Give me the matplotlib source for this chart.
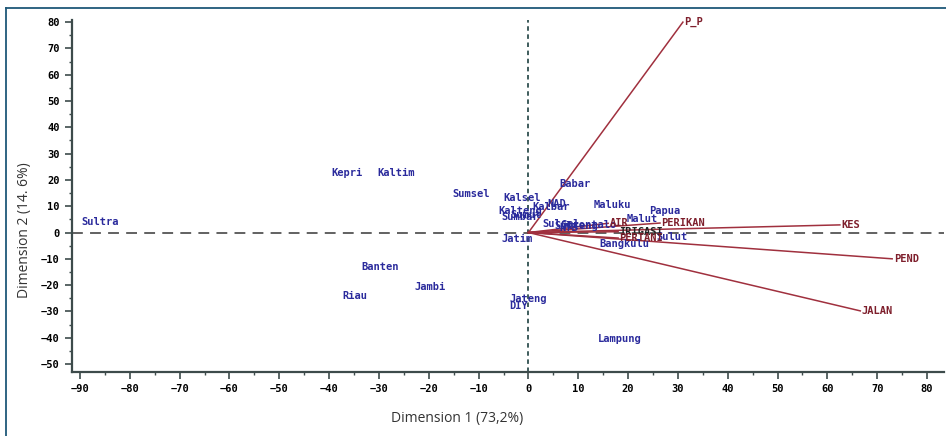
import matplotlib
matplotlib.use("Agg")
import matplotlib.pyplot as plt
from matplotlib.lines import Line2D
from matplotlib.ticker import MultipleLocator

# Observations (provinces) - label centres in plot units
prov_names = ["Sultra", "Kepri", "Kaltim", "Sumsel", "Kalsel", "Kalteng", "Kalbar", "NAD",
              "Sumbar", "Sumut", "Jatim", "Babar", "Maluku", "Papua", "Malut", "Bangkulu",
              "Sulut", "Banten", "Jambi", "Riau", "Jateng", "DIY", "Lampung",
              "Sulsel", "Sulteng", "Gorontalo", "NTB"]
prov_x = [-86.0, -36.5, -26.5, -11.5, -1.3, -1.7, 4.5, 5.7,
          -1.7, -0.5, -2.3, 9.3, 16.8, 27.4, 22.8, 19.2,
          28.9, -29.8, -19.8, -34.8, 0.0, -1.9, 18.4,
          6.5, 9.5, 12.0, 8.0]
prov_y = [4.0, 22.6, 22.6, 14.6, 13.1, 8.2, 9.7, 10.8,
          5.9, 6.8, -2.5, 18.4, 10.5, 8.2, 5.1, -4.4,
          -1.7, -13.1, -20.7, -24.1, -25.3, -27.9, -40.5,
          3.2, 2.6, 3.0, 1.8]

# Variable vectors (endpoints)
var_names = ["P_P", "KES", "PEND", "JALAN", "PERIKAN", "AIR", "IRIGASI", "PERTANI"]
var_x = [31.0, 62.5, 73.0, 66.6, 26.4, 16.0, 18.0, 18.0]
var_y = [80.0, 2.9, -10.0, -29.8, 3.6, 3.5, 0.3, -2.1]

blue = "#2a2a9c"
red = "#7e1f2c"
line_red = "#a0303e"

fig = plt.figure(figsize=(9.46, 4.36), dpi=100)
ax = fig.add_axes([72/946, 1-371.9/436, 872/946, 352.4/436])
ax.set_xlim(-91.6, 83.4)
ax.set_ylim(-53, 81)

for s in ["top", "right"]:
    ax.spines[s].set_visible(False)
for s in ["left", "bottom"]:
    ax.spines[s].set_color("#3d4b4b")
    ax.spines[s].set_linewidth(1.6)

ax.xaxis.set_major_locator(MultipleLocator(10))
ax.xaxis.set_minor_locator(MultipleLocator(5))
ax.yaxis.set_major_locator(MultipleLocator(10))
ax.yaxis.set_minor_locator(MultipleLocator(5))
ax.tick_params(which="major", direction="out", length=5, width=1.2, color="#3d4b4b",
               labelsize=7.5, pad=4)
ax.tick_params(which="minor", direction="out", length=2.5, width=1.0, color="#3d4b4b")
for lab in ax.get_xticklabels() + ax.get_yticklabels():
    lab.set_fontfamily("DejaVu Sans Mono")
    lab.set_fontweight("bold")

# reference lines
ax.axhline(0, color="#555555", lw=1.3, dashes=(6, 4), zorder=1)
ax.axvline(0, color="#2f4f4f", lw=1.3, dashes=(2.5, 2), zorder=1)

# vectors
for n, vx, vy in zip(var_names, var_x, var_y):
    ax.plot([0, vx], [0, vy], color=line_red, lw=1.1, zorder=2)
    col = "#222222" if n == "IRIGASI" else red
    ax.text(vx + 0.3, vy, n, color=col, fontsize=7.5, fontweight="bold",
            family="DejaVu Sans Mono", ha="left", va="center", zorder=4)

# observation labels
for n, px, py in zip(prov_names, prov_x, prov_y):
    ax.text(px, py, n, color=blue, fontsize=7.5, fontweight="bold",
            family="DejaVu Sans Mono", ha="center", va="center", zorder=3)

ax.set_xlabel("Dimension 1 (73,2%)", family="Open Sans", fontsize=10, color="#333333")
ax.set_ylabel("Dimension 2 (14. 6%)", family="Open Sans", fontsize=10, color="#333333")
ax.xaxis.set_label_coords(0.4415, -0.11)
ax.yaxis.set_label_coords(-0.046, 0.403)

# frame lines (top and left)
fig.add_artist(Line2D([6/946, 1], [1-8/436, 1-8/436], color="#1f5878", lw=1.3))
fig.add_artist(Line2D([6/946, 6/946], [0, 1-8/436], color="#1f5878", lw=1.3))

fig.savefig("out.png", dpi=100)
